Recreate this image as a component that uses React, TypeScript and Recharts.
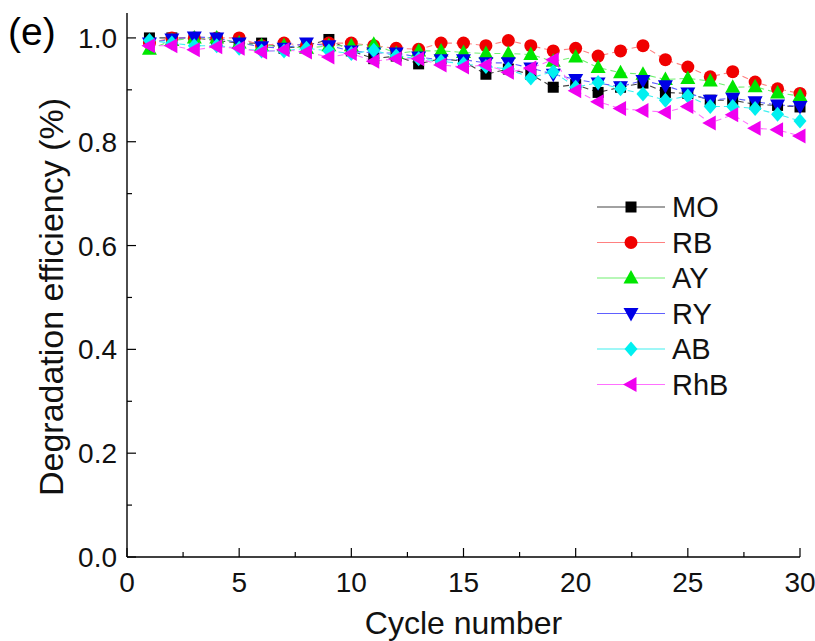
import { LineChart, Line, XAxis, YAxis, Legend } from 'recharts';

const cycles = [1, 2, 3, 4, 5, 6, 7, 8, 9, 10, 11, 12, 13, 14, 15, 16, 17, 18, 19, 20, 21, 22, 23, 24, 25, 26, 27, 28, 29, 30];

const mo = [1.0, 1.0, 1.0, 0.995, 0.99, 0.99, 0.98, 0.985, 0.997, 0.975, 0.96, 0.965, 0.95, 0.96, 0.955, 0.93, 0.94, 0.93, 0.905, 0.91, 0.895, 0.905, 0.913, 0.895, 0.893, 0.88, 0.88, 0.872, 0.87, 0.867];
const rb = [0.99, 1.0, 1.0, 1.0, 1.0, 0.985, 0.99, 0.985, 0.99, 0.99, 0.985, 0.98, 0.978, 0.99, 0.99, 0.985, 0.995, 0.985, 0.975, 0.98, 0.965, 0.975, 0.985, 0.958, 0.944, 0.925, 0.935, 0.915, 0.902, 0.893];
const ay = [0.978, 0.995, 1.0, 1.0, 0.99, 0.985, 0.985, 0.98, 0.985, 0.985, 0.988, 0.97, 0.975, 0.975, 0.972, 0.97, 0.97, 0.968, 0.955, 0.963, 0.943, 0.933, 0.93, 0.92, 0.922, 0.917, 0.905, 0.906, 0.894, 0.888];
const ry = [0.99, 0.998, 1.002, 1.0, 0.99, 0.983, 0.98, 0.99, 0.985, 0.975, 0.971, 0.971, 0.963, 0.958, 0.958, 0.952, 0.952, 0.942, 0.93, 0.92, 0.913, 0.906, 0.918, 0.908, 0.894, 0.88, 0.884, 0.877, 0.871, 0.868];
const ab = [0.995, 0.99, 0.985, 0.985, 0.98, 0.975, 0.975, 0.98, 0.975, 0.97, 0.976, 0.965, 0.96, 0.955, 0.95, 0.945, 0.94, 0.923, 0.935, 0.905, 0.914, 0.902, 0.892, 0.88, 0.888, 0.868, 0.868, 0.864, 0.853, 0.84];
const rhb = [0.985, 0.985, 0.977, 0.983, 0.98, 0.973, 0.977, 0.973, 0.963, 0.97, 0.955, 0.96, 0.96, 0.948, 0.944, 0.948, 0.934, 0.942, 0.958, 0.898, 0.877, 0.864, 0.86, 0.857, 0.868, 0.836, 0.852, 0.826, 0.823, 0.811];

const xTicks = [0, 2.5, 5, 7.5, 10, 12.5, 15, 17.5, 20, 22.5, 25, 27.5, 30];
const yTicks = [0, 0.1, 0.2, 0.3, 0.4, 0.5, 0.6, 0.7, 0.8, 0.9, 1.0];

type Kind = 'square' | 'circle' | 'up' | 'down' | 'diamond' | 'left';

const series: { key: string; name: string; kind: Kind; fill: string; line: string }[] = [
  { key: 'MO', name: 'MO', kind: 'square', fill: '#000000', line: '#444444' },
  { key: 'RB', name: 'RB', kind: 'circle', fill: '#f00000', line: '#ff8080' },
  { key: 'AY', name: 'AY', kind: 'up', fill: '#00e600', line: '#70f070' },
  { key: 'RY', name: 'RY', kind: 'down', fill: '#0000e6', line: '#6060ff' },
  { key: 'AB', name: 'AB', kind: 'diamond', fill: '#00f0f0', line: '#40f0f0' },
  { key: 'RhB', name: 'RhB', kind: 'left', fill: '#f000f0', line: '#ff70ff' },
];

const data = cycles.map((c, i) => ({
  cycle: c, MO: mo[i], RB: rb[i], AY: ay[i], RY: ry[i], AB: ab[i], RhB: rhb[i],
}));

const FONT = '"Liberation Sans", Arial, sans-serif';

function Marker({ cx, cy, kind, fill }: { cx: number; cy: number; kind: Kind; fill: string }) {
  switch (kind) {
    case 'square':
      return <rect x={cx - 5.5} y={cy - 5.5} width={11} height={11} fill={fill} />;
    case 'circle':
      return <circle cx={cx} cy={cy} r={6.5} fill={fill} />;
    case 'up':
      return <polygon points={`${cx},${cy - 8} ${cx + 7.5},${cy + 5.5} ${cx - 7.5},${cy + 5.5}`} fill={fill} />;
    case 'down':
      return <polygon points={`${cx - 7.5},${cy - 5.5} ${cx + 7.5},${cy - 5.5} ${cx},${cy + 8}`} fill={fill} />;
    case 'diamond':
      return <polygon points={`${cx},${cy - 7.5} ${cx + 6.5},${cy} ${cx},${cy + 7.5} ${cx - 6.5},${cy}`} fill={fill} />;
    default:
      return <polygon points={`${cx - 8},${cy} ${cx + 5.5},${cy - 7.5} ${cx + 5.5},${cy + 7.5}`} fill={fill} />;
  }
}

const XTick = ({ x, y, payload }: any) => {
  const major = payload.value % 5 === 0;
  return (
    <g>
      <line x1={x} x2={x} y1={y} y2={y - (major ? 9 : 5)} stroke="#000" strokeWidth={1.2} />
      {major && (
        <text x={x} y={y + 35} textAnchor="middle" fontSize={28} fontFamily={FONT} fill="#111">
          {payload.value}
        </text>
      )}
    </g>
  );
};

const YTick = ({ x, y, payload }: any) => {
  const major = Math.round(payload.value * 10) % 2 === 0;
  return (
    <g>
      <line x1={x} x2={x + (major ? 9 : 5)} y1={y} y2={y} stroke="#000" strokeWidth={1.2} />
      {major && (
        <text x={x - 10} y={y + 10} textAnchor="end" fontSize={28} fontFamily={FONT} fill="#111">
          {payload.value.toFixed(1)}
        </text>
      )}
    </g>
  );
};

const LegendBox = () => (
  <svg width={140} height={220}>
    {series.map((s, i) => {
      const cy = 17 + i * 35.5;
      return (
        <g key={s.key}>
          <line x1={7} x2={75} y1={cy} y2={cy} stroke={s.line} strokeWidth={1.2} />
          <Marker cx={41} cy={cy} kind={s.kind} fill={s.fill} />
          <text x={82} y={cy + 10} fontSize={29} fontFamily={FONT} fill="#111">{s.name}</text>
        </g>
      );
    })}
  </svg>
);

export default function App() {
  return (
    <div style={{ position: 'absolute', left: 0, top: 0, width: 815, height: 641, background: '#fff' }}>
      <LineChart width={815} height={641} data={data} margin={{ top: 13, right: 15, bottom: 0, left: 0 }}>
        <XAxis
          dataKey="cycle"
          type="number"
          domain={[0, 30]}
          ticks={xTicks}
          interval={0}
          height={84}
          tickSize={0}
          tickMargin={0}
          tickLine={false}
          tick={<XTick />}
          axisLine={{ stroke: '#000', strokeWidth: 1.4 }}
          label={{
            content: ({ viewBox }: any) => (
              <text x={viewBox.x + viewBox.width / 2} y={viewBox.y + 77} textAnchor="middle" fontSize={32} fontFamily={FONT} fill="#111">
                Cycle number
              </text>
            ),
          }}
        />
        <XAxis xAxisId="top" orientation="top" dataKey="cycle" type="number" domain={[0, 30]} height={0} tick={false} tickLine={false} axisLine={{ stroke: '#000', strokeWidth: 1.4 }} />
        <YAxis
          type="number"
          domain={[0, 1.048]}
          allowDataOverflow
          ticks={yTicks}
          interval={0}
          width={127}
          tickSize={0}
          tickMargin={0}
          tickLine={false}
          tick={<YTick />}
          axisLine={{ stroke: '#000', strokeWidth: 1.4 }}
          label={{
            content: ({ viewBox }: any) => {
              const cx = 63;
              const cy = viewBox.y + viewBox.height / 2 + 12;
              return (
                <text x={cx} y={cy} transform={`rotate(-90 ${cx} ${cy})`} textAnchor="middle" fontSize={34} fontFamily={FONT} fill="#111">
                  Degradation efficiency (%)
                </text>
              );
            },
          }}
        />
        <YAxis yAxisId="right" orientation="right" domain={[0, 1.048]} width={0} tick={false} tickLine={false} axisLine={{ stroke: '#000', strokeWidth: 1.4 }} />
        <Legend layout="vertical" align="center" verticalAlign="middle" content={<LegendBox />} wrapperStyle={{ left: 590, top: 190, width: 140 }} />
        {series.map(s => (
          <Line
            key={s.key}
            dataKey={s.key}
            name={s.name}
            stroke={s.line}
            strokeWidth={1.1}
            strokeDasharray="6 4"
            isAnimationActive={false}
            dot={(p: any) => <Marker key={`${s.key}-${p.index}`} cx={p.cx} cy={p.cy} kind={s.kind} fill={s.fill} />}
            activeDot={false}
          />
        ))}
      </LineChart>
      <div style={{ position: 'absolute', left: 8, top: 10, fontFamily: FONT, fontSize: 39, color: '#000' }}>(e)</div>
    </div>
  );
}
